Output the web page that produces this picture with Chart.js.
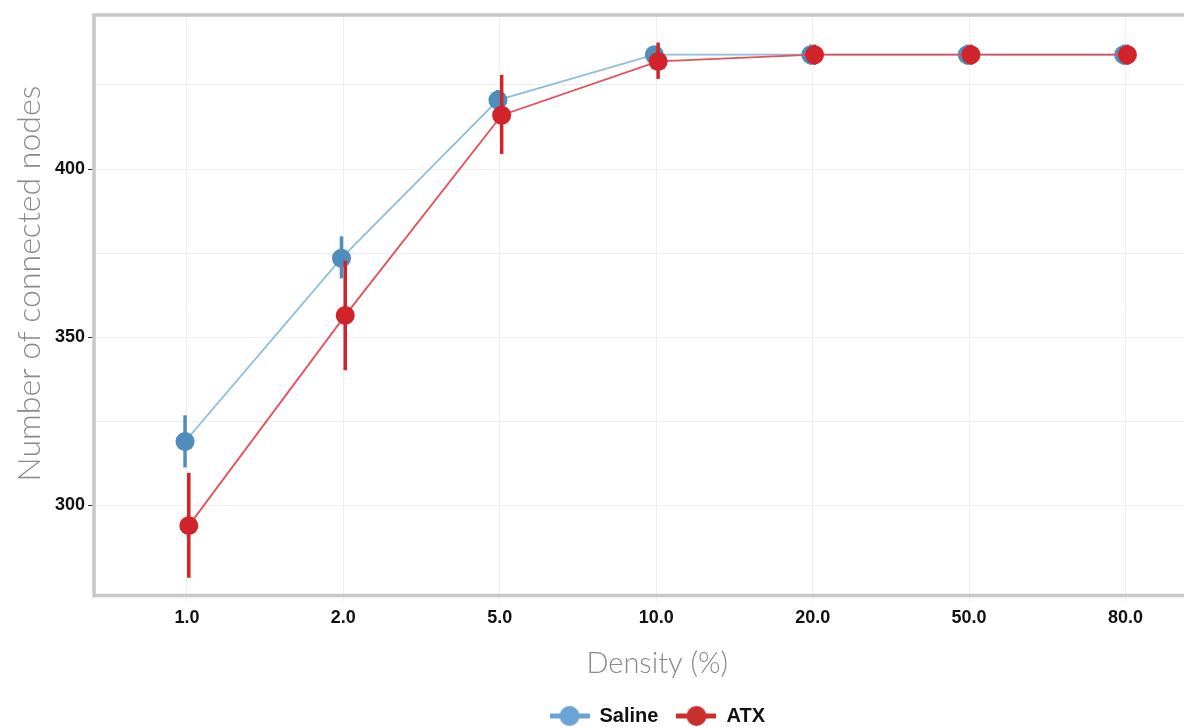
<!DOCTYPE html>
<html>
<head>
<meta charset="utf-8">
<script src="https://cdn.jsdelivr.net/npm/chart.js@4.4.1/dist/chart.umd.min.js"></script>
<style>
  html, body { margin: 0; padding: 0; background: #fff; overflow: hidden; }
  #view { width: 1184px; height: 727px; overflow: hidden; position: relative; }
  #wrap { width: 1230px; height: 727px; position: relative; }
</style>
</head>
<body>
<div id="view"><div id="wrap"><canvas id="chart"></canvas></div></div>
<script>
// ─── Data ─────────────────────────────────────────────────────────────────
const densities = ['1.0', '2.0', '5.0', '10.0', '20.0', '50.0', '80.0'];

const salineMean = [319, 373.5, 420.5, 434, 434, 434, 434];
const salineLow  = [311.3, 367.5, 417.5, 432, 431, 431, 431];
const salineHigh = [326.8, 380, 423.5, 436, 437, 437, 437];

const atxMean = [294, 356.5, 416, 432, 434, 434, 434];
const atxLow  = [278.5, 340.2, 404.5, 426.8, 431, 431, 431];
const atxHigh = [309.7, 372.8, 428, 437.6, 437, 437, 437];

const yTicks = [300, 325, 350, 375, 400, 425];
const dodge = 0.012;

// ─── Legend symbols (line with a dot) ────────────────────────────────────
function legendSymbol(color) {
  const c = document.createElement('canvas');
  c.width = 40; c.height = 22;
  const g = c.getContext('2d');
  g.strokeStyle = color;
  g.lineWidth = 5;
  g.beginPath(); g.moveTo(0, 11); g.lineTo(40, 11); g.stroke();
  g.fillStyle = color;
  g.beginPath(); g.arc(20, 11, 10, 0, Math.PI * 2); g.fill();
  return c;
}

// ─── Plugins ──────────────────────────────────────────────────────────────
const errorBars = {
  id: 'errorBars',
  beforeDatasetDraw(chart, args) {
    const ds = chart.data.datasets[args.index];
    if (!ds.errLow) return;
    const ctx = chart.ctx, y = chart.scales.y;
    ctx.save();
    ctx.strokeStyle = ds.errColor;
    ctx.lineWidth = ds.errWidth;
    args.meta.data.forEach((pt, i) => {
      ctx.beginPath();
      ctx.moveTo(pt.x, y.getPixelForValue(ds.errLow[i]));
      ctx.lineTo(pt.x, y.getPixelForValue(ds.errHigh[i]));
      ctx.stroke();
    });
    ctx.restore();
  }
};

const frame = {
  id: 'frame',
  beforeDatasetsDraw(chart) {
    const { ctx, chartArea: a } = chart;
    ctx.save();
    ctx.strokeStyle = '#c8c8c8';
    ctx.lineWidth = 3.5;
    ctx.beginPath();
    ctx.moveTo(a.right, a.top);
    ctx.lineTo(a.left, a.top);
    ctx.lineTo(a.left, a.bottom);
    ctx.lineTo(a.right, a.bottom);
    ctx.stroke();
    ctx.restore();
  }
};

// ─── Chart ────────────────────────────────────────────────────────────────
new Chart(document.getElementById('chart'), {
  type: 'line',
  data: {
    datasets: [
      {
        label: 'Saline',
        order: 2,
        data: densities.map((d, i) => ({ x: i - dodge, y: salineMean[i] })),
        errLow: salineLow, errHigh: salineHigh,
        errColor: '#4f8dbb', errWidth: 3.5,
        borderColor: '#8fbedb', borderWidth: 1.8,
        pointBackgroundColor: '#4f8dbb', pointBorderWidth: 0,
        pointRadius: 9.5, pointHoverRadius: 9.5,
        legendColor: '#6ca3d6',
      },
      {
        label: 'ATX',
        order: 1,
        data: densities.map((d, i) => ({ x: i + dodge, y: atxMean[i] })),
        errLow: atxLow, errHigh: atxHigh,
        errColor: '#d0232a', errWidth: 3.5,
        borderColor: '#e4505c', borderWidth: 1.8,
        pointBackgroundColor: '#d0232a', pointBorderWidth: 0,
        pointRadius: 9.5, pointHoverRadius: 9.5,
        legendColor: '#c9302c',
      },
    ],
  },
  options: {
    responsive: true,
    maintainAspectRatio: false,
    animation: false,
    layout: { padding: { top: 15, right: 0, bottom: -9, left: 0 } },
    plugins: {
      tooltip: { enabled: false },
      legend: {
        position: 'bottom',
        fullSize: false,
        labels: {
          usePointStyle: true,
          pointStyleWidth: 40,
          padding: 18,
          color: '#111',
          font: { family: 'Liberation Sans', size: 20, weight: 'bold' },
          generateLabels: chart => chart.data.datasets.map((ds, i) => ({
            text: ds.label,
            pointStyle: legendSymbol(ds.legendColor),
            fillStyle: ds.legendColor,
            strokeStyle: ds.legendColor,
            lineWidth: 0,
            datasetIndex: i,
            hidden: false,
            fontColor: '#111',
          })),
        },
      },
    },
    scales: {
      x: {
        type: 'linear',
        min: -0.594,
        max: 6.607,
        afterBuildTicks: axis => { axis.ticks = densities.map((d, i) => ({ value: i })); },
        ticks: {
          callback: v => densities[v],
          color: '#111',
          padding: 6,
          font: { family: 'Liberation Sans', size: 18, weight: 'bold' },
        },
        grid: { color: '#efefef', tickLength: 6, tickColor: '#efefef' },
        border: { display: false },
        title: {
          display: true,
          text: 'Density (%)',
          color: '#8a8a8a',
          font: { family: 'Lato', size: 29, weight: 300 },
          padding: { top: 11, bottom: 7 },
        },
      },
      y: {
        type: 'linear',
        min: 273.2,
        max: 445.8,
        afterBuildTicks: axis => { axis.ticks = yTicks.map(v => ({ value: v })); },
        afterFit: scale => { scale.width = 94; },
        ticks: {
          callback: v => (v % 50 === 0 ? v : ''),
          color: '#111',
          padding: 3,
          font: { family: 'Liberation Sans', size: 18, weight: 'bold' },
        },
        grid: {
          color: '#efefef',
          tickLength: 6,
          tickColor: c => (c.tick && c.tick.value % 50 === 0 ? '#333' : 'rgba(0,0,0,0)'),
        },
        border: { display: false },
        title: {
          display: true,
          // leading spaces nudge the label up, as in the original
          text: '     Number of connected nodes',
          color: '#8a8a8a',
          font: { family: 'Lato', size: 32, weight: 300 },
          padding: { top: 10, bottom: 0 },
        },
      },
    },
  },
  plugins: [errorBars, frame],
});
</script>
</body>
</html>
